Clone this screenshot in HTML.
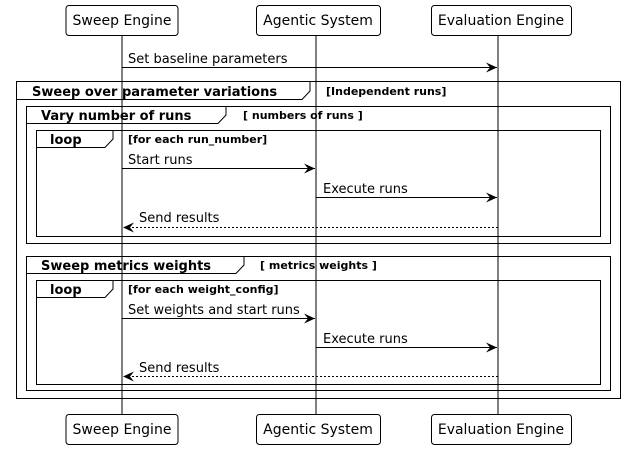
<!DOCTYPE html>
<html><head><style>body{margin:0;background:#fff}svg{display:block}</style></head><body>
<svg width="624" height="450" xmlns="http://www.w3.org/2000/svg" font-family="'DejaVu Sans','Liberation Sans',sans-serif">
<defs><marker id="a" markerWidth="12" markerHeight="10" refX="11" refY="5" orient="auto" markerUnits="userSpaceOnUse"><path d="M0,0 L11,5 L0,10 L4,5 Z" fill="#000"/></marker></defs>
<g stroke="#000" stroke-width="1">
<line x1="122" y1="35" x2="122" y2="414"/>
<line x1="316" y1="35" x2="316" y2="414"/>
<line x1="498" y1="35" x2="498" y2="414"/>
</g>
<g fill="#fff" stroke="#000">
<rect x="66" y="5.5" width="112" height="30" rx="3"/>
<rect x="256.5" y="5.5" width="124" height="30" rx="3"/>
<rect x="431.5" y="5.5" width="140" height="30" rx="3"/>
<rect x="66" y="414.5" width="112" height="30" rx="3"/>
<rect x="256.5" y="414.5" width="124" height="30" rx="3"/>
<rect x="431.5" y="414.5" width="140" height="30" rx="3"/>
</g>
<g font-size="14" text-anchor="middle">
<text x="122" y="25">Sweep Engine</text><text x="318" y="25">Agentic System</text><text x="501" y="25">Evaluation Engine</text>
<text x="122" y="434">Sweep Engine</text><text x="318" y="434">Agentic System</text><text x="501" y="434">Evaluation Engine</text>
</g>
<g fill="none" stroke="#000">
<rect x="16.5" y="81.5" width="604" height="317"/>
<path d="M16.5,99.5 H302 L310,91 V81.5"/>
<rect x="26.5" y="106.5" width="584" height="137"/>
<path d="M26.5,123.5 H218 L226,115 V106.5"/>
<rect x="36.5" y="130.5" width="564" height="106"/>
<path d="M36.5,147.5 H105 L113,139 V130.5"/>
<rect x="26.5" y="256.5" width="584" height="134"/>
<path d="M26.5,273.5 H236 L244,265 V256.5"/>
<rect x="36.5" y="280.5" width="564" height="104"/>
<path d="M36.5,297.5 H105 L113,289 V280.5"/>
</g>
<g font-weight="bold">
<text x="32" y="96" font-size="13">Sweep over parameter variations</text>
<text x="326" y="95" font-size="11">[Independent runs]</text>
<text x="41" y="120" font-size="13">Vary number of runs</text>
<text x="243" y="119" font-size="11">[ numbers of runs ]</text>
<text x="50" y="144" font-size="13">loop</text>
<text x="128" y="143" font-size="11">[for each run_number]</text>
<text x="41" y="270" font-size="13">Sweep metrics weights</text>
<text x="260" y="269" font-size="11">[ metrics weights ]</text>
<text x="50" y="294" font-size="13">loop</text>
<text x="128" y="293" font-size="11">[for each weight_config]</text>
</g>
<g stroke="#000" fill="none">
<line x1="122" y1="67.5" x2="497" y2="67.5" marker-end="url(#a)"/>
<line x1="122" y1="168.5" x2="315" y2="168.5" marker-end="url(#a)"/>
<line x1="316" y1="197.5" x2="497" y2="197.5" marker-end="url(#a)"/>
<line x1="498" y1="227.5" x2="123" y2="227.5" stroke-dasharray="2,2" marker-end="url(#a)"/>
<line x1="122" y1="318.5" x2="315" y2="318.5" marker-end="url(#a)"/>
<line x1="316" y1="347.5" x2="497" y2="347.5" marker-end="url(#a)"/>
<line x1="498" y1="376.5" x2="123" y2="376.5" stroke-dasharray="2,2" marker-end="url(#a)"/>
</g>
<g font-size="13">
<text x="128" y="63">Set baseline parameters</text>
<text x="128" y="164">Start runs</text>
<text x="323" y="193">Execute runs</text>
<text x="139" y="222">Send results</text>
<text x="128" y="314">Set weights and start runs</text>
<text x="323" y="343">Execute runs</text>
<text x="139" y="372">Send results</text>
</g>
</svg>
</body></html>
